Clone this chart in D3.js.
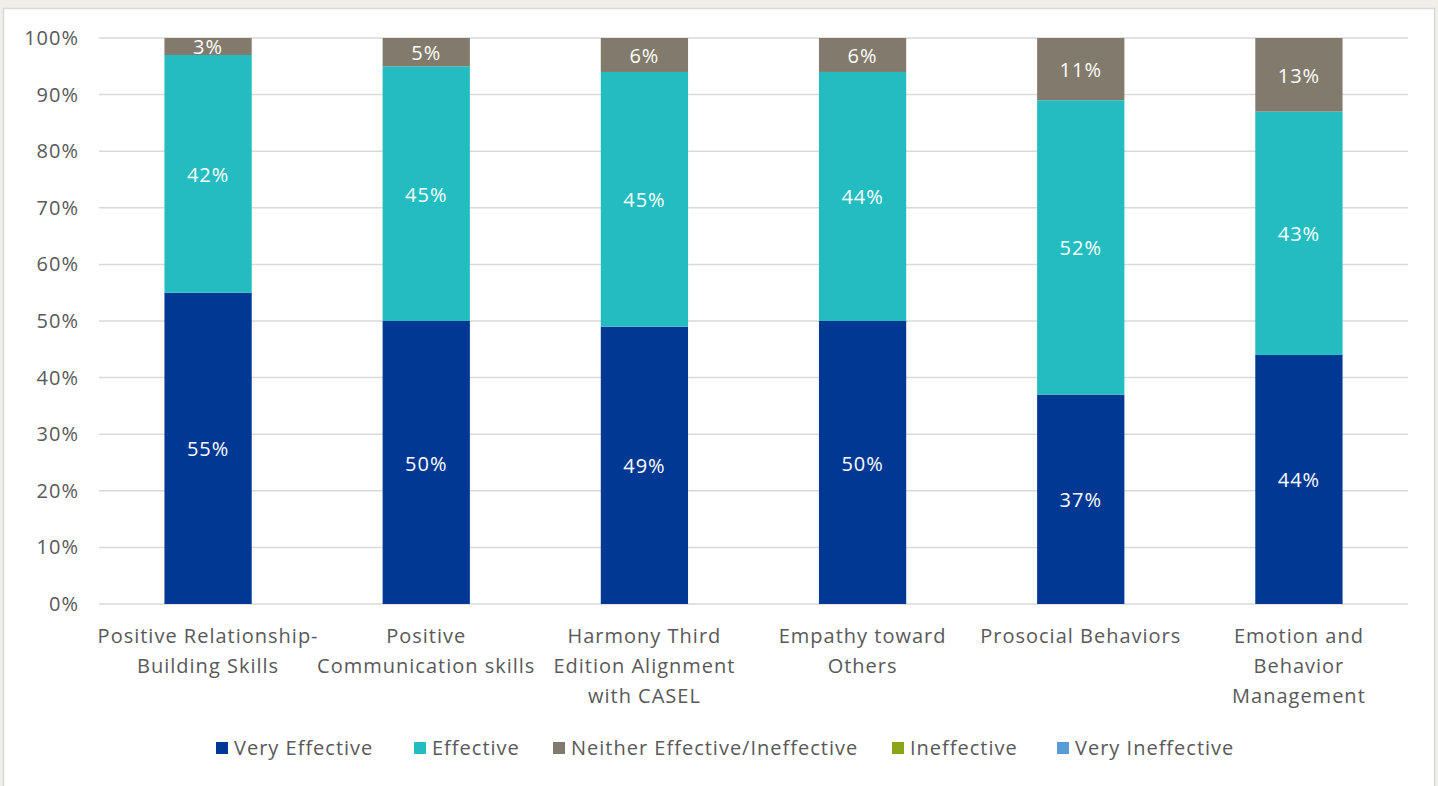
<!DOCTYPE html>
<html><head><meta charset="utf-8">
<script src="https://cdn.jsdelivr.net/npm/d3@7/dist/d3.min.js"></script>
<style>
html,body{margin:0;padding:0;background:#fff;}
svg{display:block;}
text{font-family:"Open Sans",sans-serif;letter-spacing:1px;}
</style></head>
<body>
<svg id="chart" width="1438" height="786"></svg>
<script>
const categories = [
  ["Positive Relationship-", "Building Skills"],
  ["Positive", "Communication skills"],
  ["Harmony Third", "Edition Alignment", "with CASEL"],
  ["Empathy toward", "Others"],
  ["Prosocial Behaviors"],
  ["Emotion and", "Behavior", "Management"]
];
const seriesNames = ["Very Effective", "Effective", "Neither Effective/Ineffective", "Ineffective", "Very Ineffective"];
const veryEffective = [55, 50, 49, 50, 37, 44];
const effective = [42, 45, 45, 44, 52, 43];
const neither = [3, 5, 6, 6, 11, 13];
const ineffective = [0, 0, 0, 0, 0, 0];
const veryIneffective = [0, 0, 0, 0, 0, 0];
const yTicks = [0, 10, 20, 30, 40, 50, 60, 70, 80, 90, 100];
const colors = ["#003893", "#23BDC1", "#827A6C", "#8AA614", "#5B9BD5"];

const seriesValues = [veryEffective, effective, neither, ineffective, veryIneffective];
const table = categories.map((c, i) => {
  const row = { key: i };
  seriesNames.forEach((s, j) => row[s] = seriesValues[j][i]);
  return row;
});

const svg = d3.select("#chart");
const W = 1438, H = 786;
const FS = 20;

// page background / chart frame
svg.append("rect").attr("x", 0).attr("y", 0).attr("width", W).attr("height", H).attr("fill", "#f1eeea");
svg.append("rect").attr("x", 3.5).attr("y", 8.5).attr("width", 1431).attr("height", 800)
  .attr("fill", "#fff").attr("stroke", "#d9d9d9").attr("stroke-width", 1.5);

const pL = 99, pR = 1408, pT = 38, pB = 604;
const x = d3.scaleBand().domain(d3.range(categories.length)).range([pL, pR])
  .paddingInner(0.6).paddingOuter(0.3);
const y = d3.scaleLinear().domain([0, 100]).range([pB, pT]);

// gridlines
svg.append("g").selectAll("line").data(yTicks).join("line")
  .attr("x1", pL).attr("x2", pR)
  .attr("y1", d => y(d)).attr("y2", d => y(d))
  .attr("stroke", "#d9d9d9").attr("stroke-width", 1.5);

// y axis labels
const yAxis = d3.axisLeft(y).tickValues(yTicks).tickFormat(d => d + "%").tickSize(0).tickPadding(20);
const ya = svg.append("g").attr("transform", `translate(${pL},0)`).call(yAxis);
ya.select(".domain").remove();
ya.selectAll("text").attr("font-family", "'Open Sans',sans-serif").attr("font-size", FS).attr("fill", "#595959");

// stacks
const stack = d3.stack().keys(seriesNames);
const stacked = stack(table);
const layers = svg.append("g").selectAll("g").data(stacked).join("g").attr("fill", (d, i) => colors[i]);
layers.selectAll("rect").data(d => d).join("rect")
  .attr("x", (d, i) => x(i)).attr("width", x.bandwidth())
  .attr("y", d => y(d[1])).attr("height", d => y(d[0]) - y(d[1]));

// data labels
const lbl = svg.append("g");
stacked.forEach((layer, li) => {
  layer.forEach((d, i) => {
    const v = d[1] - d[0];
    if (v <= 0) return;
    lbl.append("text")
      .attr("x", x(i) + x.bandwidth() / 2)
      .attr("y", (y(d[0]) + y(d[1])) / 2 + 1)
      .attr("dy", "0.35em")
      .attr("text-anchor", "middle")
      .attr("font-size", FS).attr("fill", "#fff")
      .text(v + "%");
  });
});

// category labels
const xa = svg.append("g");
categories.forEach((lines, i) => {
  const t = xa.append("text").attr("text-anchor", "middle").attr("font-size", FS).attr("fill", "#595959");
  lines.forEach((ln, k) => {
    t.append("tspan").attr("x", x(i) + x.bandwidth() / 2).attr("y", 643 + k * 30).text(ln);
  });
});

// legend
const legendX = [216, 414, 553, 892, 1057];
const lg = svg.append("g");
seriesNames.forEach((s, i) => {
  lg.append("rect").attr("x", legendX[i]).attr("y", 742).attr("width", 12).attr("height", 12).attr("fill", colors[i]);
  lg.append("text").attr("x", legendX[i] + 18).attr("y", 748).attr("dy", "0.35em")
    .attr("font-size", FS).attr("fill", "#595959").text(s);
});
</script>
</body></html>
